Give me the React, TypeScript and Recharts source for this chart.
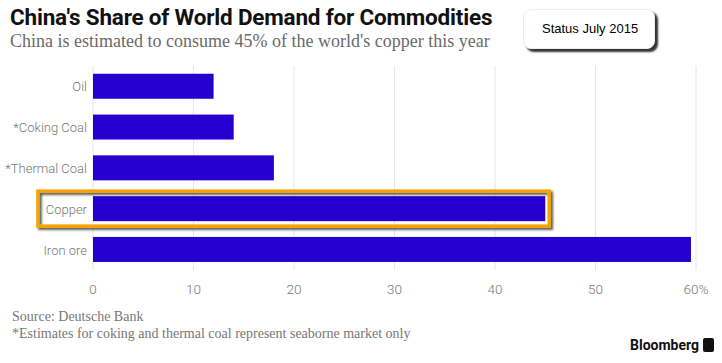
import React from 'react';
import { BarChart, Bar, XAxis, YAxis, CartesianGrid } from 'recharts';

// share of world demand, percent
const commodities = ['Oil', '*Coking Coal', '*Thermal Coal', 'Copper', 'Iron ore'];
const shares = [12, 14, 18, 45, 59.5];
const xTicks = [0, 10, 20, 30, 40, 50, 60];
const highlighted = 'Copper';

const data = commodities.map((name, i) => ({ name, share: shares[i] }));

const BAR_COLOR = '#2600d0';
const TICK_FONT = 'Roboto, sans-serif';

function BarShape(props: any) {
  const { x, y, width, height, payload } = props;
  const isHi = payload && payload.name === highlighted;
  return (
    <g>
      <rect x={x} y={y} width={width} height={height} fill={BAR_COLOR} />
      {isHi && (
        <rect
          x={x - 55}
          y={y - 5}
          width={width + 59}
          height={height + 10}
          fill="none"
          stroke="#f5a300"
          strokeWidth={3.5}
          filter="url(#hiShadow)"
        />
      )}
    </g>
  );
}

// single-line category label (the default tick wraps long names)
function CategoryTick(props: any) {
  const { x, y, payload } = props;
  return (
    <text
      x={x + 5}
      y={y}
      dy={5}
      textAnchor="end"
      fill="#777"
      fontSize={13}
      fontFamily={TICK_FONT}
      fontWeight={300}
    >
      {payload.value}
    </text>
  );
}

export default function App() {
  return (
    <div
      style={{
        position: 'absolute',
        left: 0,
        top: 0,
        width: 722,
        height: 363,
        background: '#fff',
        overflow: 'hidden',
      }}
    >
      <div
        style={{
          position: 'absolute',
          left: 10,
          top: 4,
          fontFamily: 'Roboto, "Liberation Sans", sans-serif',
          fontWeight: 700,
          fontSize: 22.5,
          color: '#111',
          letterSpacing: -0.2,
          whiteSpace: 'nowrap',
        }}
      >
        China's Share of World Demand for Commodities
      </div>
      <div
        style={{
          position: 'absolute',
          left: 10,
          top: 31,
          fontFamily: '"Liberation Serif", serif',
          fontSize: 18,
          color: '#6a6a6a',
          whiteSpace: 'nowrap',
        }}
      >
        China is estimated to consume 45% of the world's copper this year
      </div>
      <div
        style={{
          position: 'absolute',
          left: 523,
          top: 9,
          width: 130,
          height: 38,
          borderRadius: 8,
          background: '#fff',
          boxShadow: '3px 3px 2px #333',
          border: '1px solid #eee',
          fontFamily: '"Liberation Sans", Arial, sans-serif',
          fontSize: 13,
          color: '#000',
          lineHeight: '38px',
          textIndent: 18,
        }}
      >
        Status July 2015
      </div>

      <BarChart
        width={722}
        height={363}
        data={data}
        layout="vertical"
        margin={{ top: 66, right: 26, bottom: 63, left: 8 }}
        barCategoryGap="19%"
        style={{ position: 'absolute', left: 0, top: 0 }}
      >
        <defs>
          <filter id="hiShadow" x="-5%" y="-30%" width="110%" height="160%">
            <feDropShadow dx="2" dy="2" stdDeviation="1.2" floodColor="#333" floodOpacity="0.8" />
          </filter>
        </defs>
        <CartesianGrid horizontal={false} stroke="#e6e6e6" />
        <XAxis
          type="number"
          domain={[0, 60]}
          ticks={xTicks}
          axisLine={false}
          tickLine={false}
          tickFormatter={(v: number) => (v === 60 ? '60%' : String(v))}
          tick={{ fill: '#777', fontSize: 13.5, fontFamily: TICK_FONT, fontWeight: 300 }}
          tickMargin={8}
          interval={0}
        />
        <YAxis
          type="category"
          dataKey="name"
          width={85}
          axisLine={false}
          tickLine={false}
          tick={<CategoryTick />}
          tickMargin={5}
        />
        <Bar dataKey="share" shape={BarShape} isAnimationActive={false} />
      </BarChart>

      <div
        style={{
          position: 'absolute',
          left: 12,
          top: 308,
          fontFamily: '"Liberation Serif", serif',
          fontSize: 14,
          color: '#777',
          lineHeight: '17px',
          whiteSpace: 'nowrap',
        }}
      >
        <div>Source: Deutsche Bank</div>
        <div>*Estimates for coking and thermal coal represent seaborne market only</div>
      </div>
      <div
        style={{
          position: 'absolute',
          left: 630,
          top: 337,
          fontFamily: 'Roboto, "Liberation Sans", sans-serif',
          fontWeight: 700,
          fontSize: 14,
          color: '#111',
          display: 'flex',
          alignItems: 'center',
          gap: 4,
        }}
      >
        <span>Bloomberg</span>
        <span
          style={{
            display: 'inline-block',
            width: 11,
            height: 14,
            background: '#111',
            borderRadius: 2,
          }}
        />
      </div>
    </div>
  );
}
